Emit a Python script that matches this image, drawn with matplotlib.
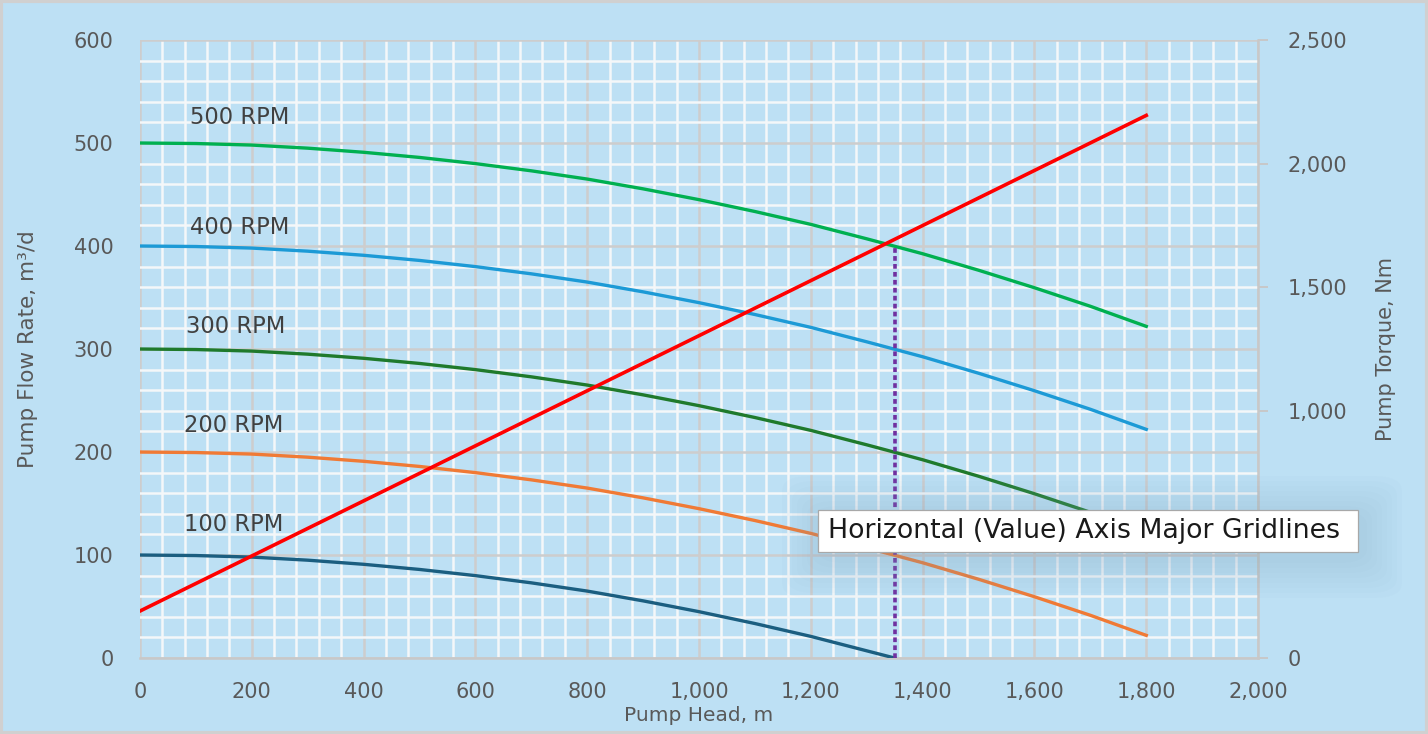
import numpy as np
import matplotlib
matplotlib.use("Agg")
import matplotlib.pyplot as plt
from matplotlib.ticker import MultipleLocator, FuncFormatter
from matplotlib.patches import Rectangle, FancyBboxPatch

# ------------------------------
# data
# ------------------------------
head = [0, 100, 200, 300, 400, 500, 600, 700, 800, 900,
        1000, 1100, 1200, 1300, 1400, 1500, 1600, 1700, 1800]
flow_500 = [500, 499.5, 498, 495, 491, 486, 480, 473, 465, 455.5,
            445, 433.5, 421, 407, 392.5, 376.5, 359.5, 341.5, 322]
flow_400 = [400, 399.5, 398, 395, 391, 386, 380, 373, 365, 355.5,
            345, 333.5, 321, 307, 292.5, 276.5, 259.5, 241.5, 222]
flow_300 = [300, 299.5, 298, 295, 291, 286, 280, 273, 265, 255.5,
            245, 233.5, 221, 207, 192.5, 176.5, 159.5, 141.5, 122]
flow_200 = [200, 199.5, 198, 195, 191, 186, 180, 173, 165, 155.5,
            145, 133.5, 121, 107, 92.5, 76.5, 59.5, 41.5, 22]
head_100 = [0, 100, 200, 300, 400, 500, 600, 700, 800, 900,
            1000, 1100, 1200, 1300, 1350]
flow_100 = [100, 99.5, 98, 95, 91, 86, 80, 73, 65, 55.5,
            45, 33.5, 21, 7, 0]
torque_head = [0, 1800]
torque = [190, 2195]
op_head = 1350
op_flow = 400

rpm_labels = ["500 RPM", "400 RPM", "300 RPM", "200 RPM", "100 RPM"]
label_pos = [(90, 525), (90, 418), (82, 322), (79, 226), (79, 130)]

bg = "#BDE0F4"
txt = "#595959"

fig = plt.figure(figsize=(14.28, 7.34), dpi=100)
fig.patch.set_facecolor(bg)
fig.patches.append(Rectangle((0.001, 0.001), 0.998, 0.997, transform=fig.transFigure,
                             fill=False, edgecolor="#D0D0D0", linewidth=3))

ax = fig.add_axes([0.098, 0.1035, 0.783, 0.842])
ax.set_facecolor(bg)
ax.set_xlim(0, 2000)
ax.set_ylim(0, 600)

ax.xaxis.set_major_locator(MultipleLocator(200))
ax.xaxis.set_minor_locator(MultipleLocator(40))
ax.yaxis.set_major_locator(MultipleLocator(100))
ax.yaxis.set_minor_locator(MultipleLocator(20))
ax.grid(which="minor", color="#F4F7F9", linewidth=1.8, zorder=0)
ax.grid(which="major", color="#CDCDCD", linewidth=1.8, zorder=0)
ax.set_axisbelow(True)
ax.tick_params(which="both", length=0, labelsize=15, labelcolor=txt)
ax.tick_params(axis="y", pad=19)
ax.tick_params(axis="x", pad=17)
ax.xaxis.set_major_formatter(FuncFormatter(lambda v, p: f"{int(v):,}"))
for s in ax.spines.values():
    s.set_visible(False)
ax.spines["bottom"].set_visible(True)
ax.spines["bottom"].set_color("#C8C8C8")
ax.spines["bottom"].set_linewidth(1.8)

ax.plot(head, flow_500, color="#00B050", lw=2.4, zorder=3)
ax.plot(head, flow_400, color="#1C9AD6", lw=2.4, zorder=3)
ax.plot(head, flow_300, color="#1F7A2C", lw=2.4, zorder=3)
ax.plot(head, flow_200, color="#F07A35", lw=2.4, zorder=3)
ax.plot(head_100, flow_100, color="#1B5E80", lw=2.4, zorder=3)
ax.plot([op_head, op_head], [0, op_flow], color="#7030A0", lw=2.6,
        linestyle=(0, (1.3, 0.9)), zorder=4)

for lab, (x, y) in zip(rpm_labels, label_pos):
    ax.text(x, y, lab, fontsize=16.3, color="#404040", va="center", ha="left")

ax.set_xlabel("Pump Head, m", fontsize=14.5, color=txt, labelpad=3)
ax.set_ylabel("Pump Flow Rate, m³/d", fontsize=15.5, color=txt, labelpad=26)

ax2 = ax.twinx()
ax2.set_ylim(0, 2500)
ax2.yaxis.set_major_locator(MultipleLocator(500))
# the 500 label sits under the tooltip in the screenshot, so it is left blank
ax2.yaxis.set_major_formatter(FuncFormatter(lambda v, p: "" if int(v) == 500 else f"{int(v):,}"))
ax2.tick_params(length=7, color="#C8C8C8", width=1.4, labelsize=15, labelcolor=txt, pad=14)
for s in ax2.spines.values():
    s.set_visible(False)
ax2.spines["right"].set_visible(True)
ax2.spines["right"].set_color("#C8C8C8")
ax2.spines["right"].set_linewidth(1.8)
ax2.plot(torque_head, torque, color="#FF0000", lw=2.6, zorder=5)
ax2.set_ylabel("Pump Torque, Nm", fontsize=15, color=txt, labelpad=21)

# tooltip with a soft shadow
W, H = fig.get_size_inches() * fig.dpi
bx0, by0, bx1, by1 = 818 / W, 1 - 552 / H, 1358 / W, 1 - 510 / H
for i in range(8):
    grow = (8 - i) * 5
    fig.patches.append(FancyBboxPatch(
        (bx0 - grow / W + 4 / W, by0 - (grow + 6) / H), bx1 - bx0 + 2 * grow / W,
        by1 - by0 + 2 * grow / H, boxstyle="round,pad=0,rounding_size=0.02",
        transform=fig.transFigure, facecolor="#7FA6C0", edgecolor="none", alpha=0.035, zorder=8))
fig.patches.append(Rectangle((bx0, by0), bx1 - bx0, by1 - by0, transform=fig.transFigure,
                             facecolor="white", edgecolor="#A8A8A8", linewidth=0.9, zorder=9))
fig.text(bx0 + 10 / W, (by0 + by1) / 2, "Horizontal (Value) Axis Major Gridlines", fontsize=19.3,
         color="#1a1a1a", va="center", ha="left", zorder=10)

fig.savefig("out.png", dpi=100, facecolor=bg)
